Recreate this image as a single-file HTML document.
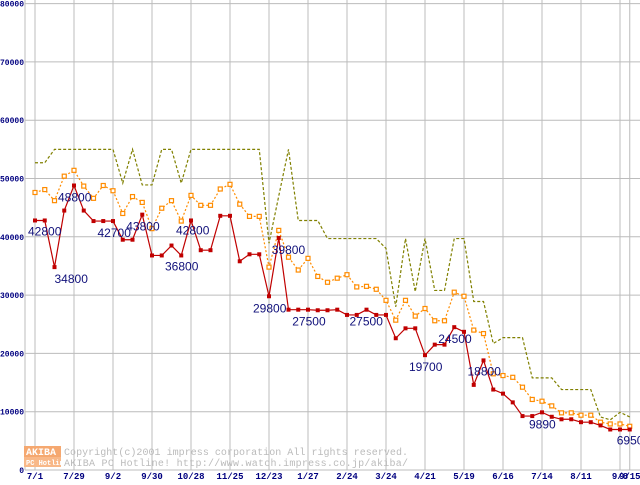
<!DOCTYPE html>
<html><head><meta charset="utf-8"><style>
body{margin:0;background:#fff}
svg text{font-family:"Liberation Mono",monospace}
</style></head><body>
<svg id="chart" width="640" height="480" xmlns="http://www.w3.org/2000/svg">
<rect width="640" height="480" fill="#fff"/>
<g id="grid"></g>
<g id="wm">
<rect x="24" y="446" width="37" height="11" fill="#f5a870"/>
<rect x="24" y="457" width="37" height="10" fill="#f8b888"/>
<text x="26" y="455" font-size="10" font-weight="bold" fill="#fff">AKIBA</text>
<text x="26" y="465" font-size="7" font-weight="bold" fill="#fff">PC Hotline!</text>
<text x="64" y="455" font-size="10" fill="#bbb" textLength="344">Copyright(c)2001 impress corporation All rights reserved.</text>
<text x="64" y="466" font-size="10" fill="#bbb" textLength="344">AKIBA PC Hotline!  http://www.watch.impress.co.jp/akiba/</text>
</g>
<g id="series"></g>
<g id="labels"></g>
<g id="axes"></g>
</svg>
<script>
const xTickLabels=["7/1","7/29","9/2","9/30","10/28","11/25","12/23","1/27","2/24","3/24","4/21","5/19","6/16","7/14","8/11","9/8"];
const lastLabel="9/15";
const yTicks=[0,10000,20000,30000,40000,50000,60000,70000,80000];
const redValues=[42800,42800,34800,44500,48800,44500,42700,42700,42700,39500,39500,43800,36800,36800,38500,36800,42800,37700,37700,43600,43600,35800,37000,37000,29800,39800,27500,27500,27500,27400,27400,27500,26600,26600,27500,26600,26600,22600,24300,24300,19700,21500,21500,24500,23700,14600,18800,13800,13100,11600,9250,9250,9890,9130,8700,8700,8200,8200,7650,6950,6950,6950];
const orangeValues=[47600,48100,46200,50400,51400,48700,46600,48800,47900,44000,46900,45900,41400,44900,46200,42700,47100,45400,45400,48200,49000,45600,43500,43500,34800,41100,36500,34300,36300,33200,32200,32900,33500,31400,31500,31000,29100,25700,29100,26400,27700,25600,25600,30500,29800,24000,23400,16500,16200,15900,14200,12100,11800,11000,9800,9800,9400,9400,8200,7900,7900,7500];
const oliveValues=[52700,52700,55000,55000,55000,55000,55000,55000,55000,49200,55000,48900,48900,55000,55000,49200,55000,55000,55000,55000,55000,55000,55000,55000,38900,47000,55000,42800,42800,42800,39700,39700,39700,39700,39700,39700,38000,28000,39700,30600,39700,30800,30800,39700,39700,28900,28900,21700,22700,22700,22700,15800,15800,15800,13800,13800,13800,13800,9100,8600,9900,9100];
const labelIdx=[0,2,4,6,11,12,16,25,24,27,34,40,43,46,52,61];
const labelDx=[-7,0,-16,4,-16,13,-15,-7,-16,-6,-17,-16,-16,-16,-13,-13];
const labelDy=[15,16,16,16,16,15,14,16,16,16,16,16,16,15,16,15];

const NS="http://www.w3.org/2000/svg";
const X0=35,DX=9.75,Y0=470,PY=58.3/10000,LEFT=25,RIGHT=630;
const xs=i=>X0+i*DX, ys=v=>Y0-v*PY;
function mk(t,a,p){const e=document.createElementNS(NS,t);for(const k in a)e.setAttribute(k,a[k]);p.appendChild(e);return e;}
const grid=document.getElementById('grid'),axes=document.getElementById('axes'),ser=document.getElementById('series'),lab=document.getElementById('labels');
yTicks.forEach(v=>{
 const l=mk('line',{x1:LEFT,x2:RIGHT+10,y1:ys(v),y2:ys(v),stroke:'#bcbcbc','stroke-width':1},grid);
 
 
 const s=String(v);
 const t=mk('text',{x:24,y:ys(v)+3,'text-anchor':'end','font-size':8,'font-weight':'bold',fill:'#000080',textLength:s.length*4.8,lengthAdjust:'spacingAndGlyphs'},axes);
 t.textContent=s;
 
 
});
mk('line',{x1:LEFT,x2:LEFT,y1:0,y2:470,stroke:'#bcbcbc'},grid);
xTickLabels.forEach((s,k)=>{
 const x=xs(k*4);
 const l=mk('line',{x1:x,x2:x,y1:0,y2:470,stroke:'#bcbcbc'},grid);
 
 
 const t=mk('text',{x:x,y:479,'text-anchor':'middle','font-size':9,'font-weight':'bold',fill:'#000080'},axes);
 t.textContent=s;
 
 
});
{const x=xs(redValues.length-1);mk('line',{x1:x,x2:x,y1:0,y2:470,stroke:'#bcbcbc'},grid);
 const t=mk('text',{x:x,y:479,'text-anchor':'middle','font-size':9,'font-weight':'bold',fill:'#000080'},axes);t.textContent=lastLabel;
 
 }
function line(vals,color,dash,name){
 const p=mk('polyline',{points:vals.map((v,i)=>xs(i)+','+ys(v)).join(' '),fill:'none',stroke:color,'stroke-width':1.2,'stroke-dasharray':dash},ser);
 
 
}
line(oliveValues,'#808000','3,2','olive-series-line');
line(orangeValues,'#ff8c00','2,2','orange-series-line');
orangeValues.forEach((v,i)=>{const r=mk('rect',{x:xs(i)-2,y:ys(v)-2,width:4,height:4,fill:'#fff',stroke:'#ff8c00','stroke-width':1.2},ser);
 
 });
line(redValues,'#c00000','','red-series-line');
redValues.forEach((v,i)=>{const r=mk('rect',{x:xs(i)-2,y:ys(v)-2,width:4,height:4,fill:'#c00000'},ser);
 
 });
labelIdx.forEach((i,k)=>{
 const t=mk('text',{x:xs(i)+labelDx[k],y:ys(redValues[i])+labelDy[k],'font-size':12,fill:'#10107a',style:'font-family:"Liberation Sans",sans-serif'},lab);
 t.textContent=redValues[i];
 
 
});
</script>
</body></html>
